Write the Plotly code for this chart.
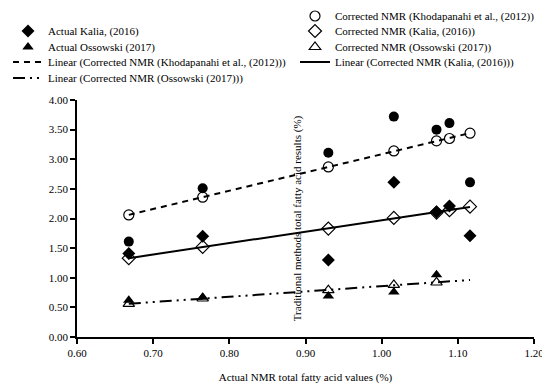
import numpy as np
import plotly.graph_objects as go

# ---- data ----
x_kh = [0.668, 0.765, 0.930, 1.016, 1.072, 1.089, 1.116]
actual_kh = [1.61, 2.51, 3.11, 3.72, 3.50, 3.61, 2.61]
corr_kh = [2.06, 2.36, 2.87, 3.14, 3.31, 3.35, 3.44]

x_ka = [0.668, 0.765, 0.930, 1.016, 1.072, 1.089, 1.116]
actual_ka = [1.41, 1.70, 1.30, 2.61, 2.11, 2.21, 1.71]
corr_ka = [1.33, 1.52, 1.83, 2.01, 2.10, 2.14, 2.20]

x_os = [0.668, 0.765, 0.930, 1.016, 1.072]
actual_os = [0.62, 0.67, 0.69, 0.76, 1.05]
corr_os = [0.56, 0.65, 0.79, 0.88, 0.92]

x_ticks = [0.60, 0.70, 0.80, 0.90, 1.00, 1.10, 1.20]
y_ticks = [0.0, 0.5, 1.0, 1.5, 2.0, 2.5, 3.0, 3.5, 4.0]

FONT = "Liberation Serif"
line_x = [min(x_kh), max(x_kh)]


def fit(xs, ys):
    m, b = np.polyfit(xs, ys, 1)
    return [m * v + b for v in line_x]


fig = go.Figure()

fig.add_trace(go.Scatter(x=x_kh, y=actual_kh, mode="markers", name="Actual Khodapanahi et al., (2012)",
                         legend="legend", marker=dict(symbol="circle", color="black", size=10)))
fig.add_trace(go.Scatter(x=x_ka, y=actual_ka, mode="markers", name="Actual Kalia, (2016)",
                         legend="legend2", marker=dict(symbol="diamond", color="black", size=10)))
fig.add_trace(go.Scatter(x=x_os, y=actual_os, mode="markers", name="Actual Ossowski (2017)",
                         legend="legend3", marker=dict(symbol="triangle-up", color="black", size=10)))
fig.add_trace(go.Scatter(x=line_x, y=fit(x_kh, corr_kh), mode="lines",
                         name="Linear (Corrected NMR (Khodapanahi et al., (2012)))", legend="legend4",
                         line=dict(color="black", width=2, dash="6px,5px")))
fig.add_trace(go.Scatter(x=line_x, y=fit(x_os, corr_os), mode="lines",
                         name="Linear (Corrected NMR (Ossowski (2017)))", legend="legend5",
                         line=dict(color="black", width=2, dash="12px,5px,2px,5px,2px,5px")))
fig.add_trace(go.Scatter(x=x_kh, y=corr_kh, mode="markers", name="Corrected NMR (Khodapanahi et al., (2012))",
                         legend="legend6",
                         marker=dict(symbol="circle-open", color="black", size=10, line=dict(width=1.2))))
fig.add_trace(go.Scatter(x=x_ka, y=corr_ka, mode="markers", name="Corrected NMR (Kalia, (2016))",
                         legend="legend7",
                         marker=dict(symbol="diamond-open", color="black", size=10, line=dict(width=1.2))))
fig.add_trace(go.Scatter(x=x_os, y=corr_os, mode="markers", name="Corrected NMR (Ossowski (2017))",
                         legend="legend8",
                         marker=dict(symbol="triangle-up-open", color="black", size=10, line=dict(width=1.2))))
fig.add_trace(go.Scatter(x=line_x, y=fit(x_ka, corr_ka), mode="lines",
                         name="Linear (Corrected NMR (Kalia, (2016)))", legend="legend9",
                         line=dict(color="black", width=2)))

# the page has an 8px body margin, so the figure is sized to fit the rest of the window
W, H = 542, 381
leg_common = dict(orientation="v", xref="container", yref="container", xanchor="left", yanchor="middle",
                  font=dict(family=FONT, size=11, color="black"), itemwidth=30,
                  bgcolor="rgba(0,0,0,0)", borderwidth=0)
rows = [8, 23, 39, 54, 70]
legends = {}
left_names = ["legend", "legend2", "legend3", "legend4", "legend5"]
right_names = ["legend6", "legend7", "legend8", "legend9"]
for nm, yc in zip(left_names, rows):
    legends[nm] = dict(x=0.0, y=1 - yc / H, **leg_common)
for nm, yc in zip(right_names, rows):
    legends[nm] = dict(x=287 / W, y=1 - yc / H, **leg_common)

fig.update_layout(
    width=W, height=H,
    paper_bgcolor="white", plot_bgcolor="white",
    margin=dict(l=69, r=16, t=92, b=52, autoexpand=False),
    font=dict(family=FONT, size=11, color="black"),
    **legends,
    xaxis=dict(range=[0.60, 1.20], tickvals=x_ticks, ticktext=[f"{v:.2f}" for v in x_ticks],
               showgrid=False, zeroline=False, showline=True, linecolor="black", linewidth=1.5,
               ticks="outside", ticklen=5, tickcolor="black", tickwidth=1.5,
               tickfont=dict(family=FONT, size=11),
               title=dict(text="Actual NMR total fatty acid values (%)",
                          font=dict(family=FONT, size=11))),
    yaxis=dict(range=[0, 4.0], tickvals=y_ticks, ticktext=[f"{v:.2f}" for v in y_ticks],
               showgrid=False, zeroline=False, showline=True, linecolor="black", linewidth=1.5,
               ticks="outside", ticklen=5, tickcolor="black", tickwidth=1.5,
               tickfont=dict(family=FONT, size=11),
               title=dict(text="Traditional methods total fatty acid results (%)",
                          font=dict(family=FONT, size=11))),
)

fig.write_html("out.html", config={"displayModeBar": False})
